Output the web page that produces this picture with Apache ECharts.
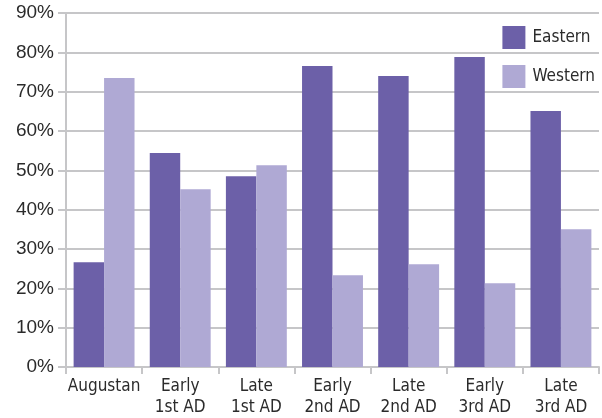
<!DOCTYPE html>
<html>
<head>
<meta charset="utf-8">
<script src="https://cdn.jsdelivr.net/npm/echarts@6/dist/echarts.min.js"></script>
<style>
  html, body { margin: 0; padding: 0; background: #fff; }
  #chart { width: 602px; height: 418px; }
</style>
</head>
<body>
<div id="chart"></div>
<script>
// Periods on the horizontal axis
const periods = ['Augustan', 'Early\n1st AD', 'Late\n1st AD', 'Early\n2nd AD', 'Late\n2nd AD', 'Early\n3rd AD', 'Late\n3rd AD'];
// Share per period, in percent
const eastern = [26.6, 54.4, 48.5, 76.5, 74.0, 78.8, 65.1];
const western = [73.5, 45.2, 51.3, 23.3, 26.1, 21.3, 35.0];
// Vertical axis range
const yMin = 0, yMax = 90, yStep = 10;

const gridColor = '#c6c6c8';
const textColor = '#2b2b2b';
const narrowFont = "'DejaVu Sans Condensed', Roboto, sans-serif";

const chart = echarts.init(document.getElementById('chart'), null, { renderer: 'canvas' });
chart.setOption({
  animation: false,
  backgroundColor: '#fff',
  grid: { left: 66, right: 3, top: 13, bottom: 51, containLabel: false },
  legend: {
    right: 2, top: 21, orient: 'vertical', itemWidth: 23, itemHeight: 23, itemGap: 16,
    icon: 'rect',
    textStyle: { fontFamily: narrowFont, fontSize: 17, color: textColor, padding: [0, 0, 0, 2] },
    data: ['Eastern', 'Western']
  },
  xAxis: {
    type: 'category', data: periods,
    axisLine: { lineStyle: { color: gridColor, width: 2 } },
    axisTick: { show: true, length: 7, lineStyle: { color: gridColor, width: 2 } },
    axisLabel: { interval: 0, fontFamily: narrowFont, fontSize: 17, color: textColor, lineHeight: 21, margin: 9 }
  },
  yAxis: {
    type: 'value', min: yMin, max: yMax, interval: yStep,
    axisLine: { show: true, lineStyle: { color: gridColor, width: 2 } },
    axisTick: { show: true, length: 8, lineStyle: { color: gridColor, width: 2 } },
    splitLine: { lineStyle: { color: gridColor, width: 2 } },
    axisLabel: { formatter: '{value}%', fontFamily: 'Liberation Sans', fontSize: 19, color: textColor, margin: 12 }
  },
  series: [
    { name: 'Eastern', type: 'bar', data: eastern, barGap: '0%', barCategoryGap: '20%',
      itemStyle: { color: '#6c60a8' } },
    { name: 'Western', type: 'bar', data: western,
      itemStyle: { color: '#afa9d4' } }
  ]
});
</script>
</body>
</html>
